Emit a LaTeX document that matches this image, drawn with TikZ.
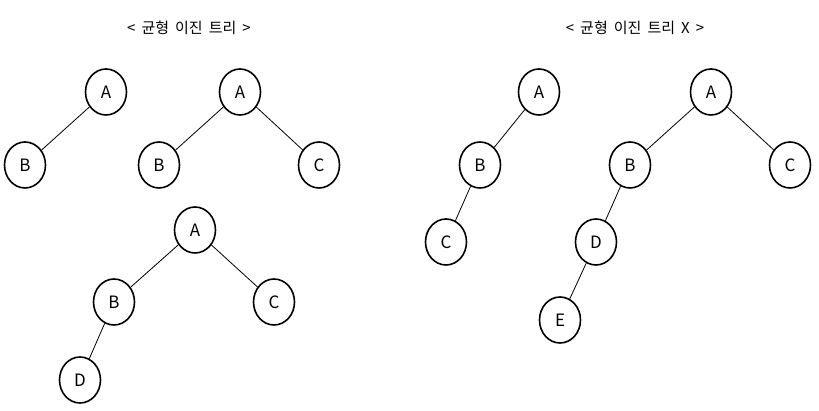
\documentclass[tikz,border=0pt]{standalone}
\usepackage{fontspec}
\setmainfont{Noto Sans CJK KR}
\newfontfamily\titlefont[WordSpace=1.8]{Noto Sans CJK KR}
\usepackage{tikz}
\usetikzlibrary{shapes.geometric, positioning}

\begin{document}
\begin{tikzpicture}[x=1pt, y=-1pt,
    vertex/.style={ellipse, draw, line width=1.6pt, minimum width=41pt, minimum height=46pt, inner sep=0pt, font=\fontsize{17}{17}\selectfont},
    branch/.style={line width=0.8pt},
    heading/.style={font=\titlefont\fontsize{15}{15}\selectfont}]
    \useasboundingbox (0,0) rectangle (819,411);

    % Titles
    \node[heading] (balanced) at (189,28) {< 균형 이진 트리 >};
    \node[heading] (unbalanced) at (635,28) {< 균형 이진 트리 X >};

    % Balanced tree 1
    \node[vertex] (a1) at (106,92) {A};
    \node[vertex] (b1) at (25,165) {B};
    \draw[branch] (a1) -- (b1);

    % Balanced tree 2
    \node[vertex] (a2) at (240,92) {A};
    \node[vertex] (b2) at (159,165) {B};
    \node[vertex] (c2) at (319,165) {C};
    \draw[branch] (a2) -- (b2);
    \draw[branch] (a2) -- (c2);

    % Balanced tree 3
    \node[vertex] (a3) at (195,230) {A};
    \node[vertex] (b3) at (114,302) {B};
    \node[vertex] (c3) at (274,302) {C};
    \node[vertex] (d3) at (80,380) {D};
    \draw[branch] (a3) -- (b3);
    \draw[branch] (a3) -- (c3);
    \draw[branch] (b3) -- (d3);

    % Unbalanced tree 1
    \node[vertex] (a4) at (539,92) {A};
    \node[vertex] (b4) at (480,165) {B};
    \node[vertex] (c4) at (446,242) {C};
    \draw[branch] (a4) -- (b4);
    \draw[branch] (b4) -- (c4);

    % Unbalanced tree 2
    \node[vertex] (a5) at (711,92) {A};
    \node[vertex] (b5) at (630,165) {B};
    \node[vertex] (c5) at (790,165) {C};
    \node[vertex] (d5) at (596,242) {D};
    \node[vertex] (e5) at (560,320) {E};
    \draw[branch] (a5) -- (b5);
    \draw[branch] (a5) -- (c5);
    \draw[branch] (b5) -- (d5);
    \draw[branch] (d5) -- (e5);
\end{tikzpicture}
\end{document}
